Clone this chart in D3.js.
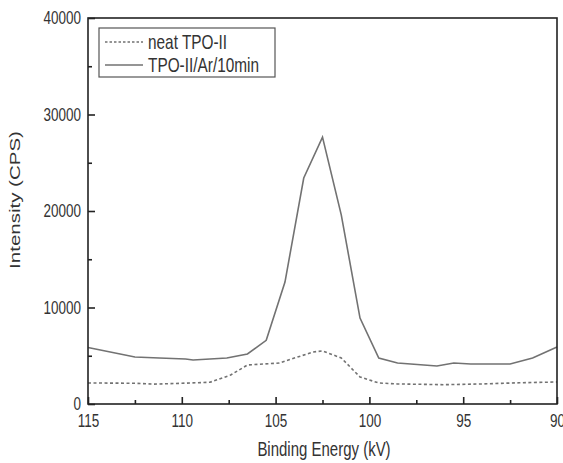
<!DOCTYPE html>
<html>
<head>
<meta charset="utf-8">
<script src="https://cdn.jsdelivr.net/npm/d3@7"></script>
<style>
  body { margin: 0; background: #fff; }
  text { font-family: "Liberation Sans", Arial, sans-serif; fill: #333; }
</style>
</head>
<body>
<div id="chart"></div>
<script>
// energies (kV) and intensities (CPS)
const solidX = [115, 112.5, 111.2, 109.8, 109.4, 107.6, 106.5, 105.5, 104.5, 103.5, 102.5, 101.5, 100.5, 99.5, 98.5, 96.4, 95.5, 94.6, 92.5, 91.3, 90];
const solidY = [5850, 4870, 4770, 4660, 4560, 4770, 5180, 6600, 12640, 23420, 27650, 19600, 8900, 4770, 4250, 3940, 4250, 4150, 4150, 4770, 5900];

const dashX = [115, 112.5, 111.5, 110, 108.5, 107.4, 106.5, 104.8, 103.0, 102.5, 101.5, 100.5, 99.5, 98.5, 96, 94, 92, 90];
const dashY = [2180, 2150, 2060, 2150, 2250, 3000, 4040, 4250, 5390, 5500, 4770, 2800, 2180, 2080, 2000, 2080, 2200, 2280];

const seriesNames = ["neat TPO-II", "TPO-II/Ar/10min"];
const xTicks = [115, 110, 105, 100, 95, 90];
const yTicks = [0, 10000, 20000, 30000, 40000];

const width = 563, height = 463;
const margin = {top: 18, right: 6, bottom: 59, left: 88};
const squeeze = 0.75; // the scanned figure's text looks condensed horizontally

const svg = d3.select("#chart")
  .append("svg")
  .attr("width", width)
  .attr("height", height);

const x = d3.scaleLinear().domain([115, 90]).range([margin.left, width - margin.right]);
const y = d3.scaleLinear().domain([0, 40000]).range([height - margin.bottom, margin.top]);

const lineColor = "#727272";

// data lines
const line = d3.line().x(d => x(d[0])).y(d => y(d[1]));

svg.append("path")
  .datum(d3.zip(dashX, dashY))
  .attr("fill", "none")
  .attr("stroke", lineColor)
  .attr("stroke-width", 1.6)
  .attr("stroke-dasharray", "3,2.5")
  .attr("d", line);

svg.append("path")
  .datum(d3.zip(solidX, solidY))
  .attr("fill", "none")
  .attr("stroke", lineColor)
  .attr("stroke-width", 1.6)
  .attr("d", line);

// frame
svg.append("rect")
  .attr("x", x(115)).attr("y", y(40000))
  .attr("width", x(90) - x(115)).attr("height", y(0) - y(40000))
  .attr("fill", "none")
  .attr("stroke", "#222")
  .attr("stroke-width", 1.6);

// ticks point inward
const xAxis = svg.append("g")
  .attr("transform", `translate(0,${y(0)})`)
  .call(d3.axisBottom(x).tickValues(xTicks).tickSize(-7).tickPadding(10).tickFormat(d3.format("d")));
xAxis.select(".domain").remove();
xAxis.selectAll(".tick line").attr("stroke", "#222").attr("stroke-width", 1.6);
xAxis.selectAll("text")
  .attr("font-size", 18)
  .attr("fill", "#333")
  .attr("transform", `scale(${squeeze},1)`);

svg.append("g")
  .attr("transform", `translate(0,${y(0)})`)
  .call(d3.axisBottom(x).tickValues(d3.range(112.5, 90, -5)).tickSize(-4).tickFormat(""))
  .call(g => g.select(".domain").remove())
  .selectAll(".tick line").attr("stroke", "#222").attr("stroke-width", 1.6);

const yAxis = svg.append("g")
  .attr("transform", `translate(${x(115)},0)`)
  .call(d3.axisLeft(y).tickValues(yTicks).tickSize(-7).tickPadding(8).tickFormat(d3.format("d")));
yAxis.select(".domain").remove();
yAxis.selectAll(".tick line").attr("stroke", "#222").attr("stroke-width", 1.6);
yAxis.selectAll("text")
  .attr("font-size", 18)
  .attr("fill", "#333")
  .attr("x", -7 / squeeze)
  .attr("transform", `scale(${squeeze},1)`);

svg.append("g")
  .attr("transform", `translate(${x(115)},0)`)
  .call(d3.axisLeft(y).tickValues([5000, 15000, 25000, 35000]).tickSize(-4).tickFormat(""))
  .call(g => g.select(".domain").remove())
  .selectAll(".tick line").attr("stroke", "#222").attr("stroke-width", 1.6);

// axis titles
svg.append("text")
  .attr("transform", `translate(324,456) scale(${squeeze},1)`)
  .attr("text-anchor", "middle")
  .attr("font-size", 20)
  .text("Binding Energy (kV)");

svg.append("text")
  .attr("transform", `translate(20,200) rotate(-90) scale(1,${squeeze})`)
  .attr("text-anchor", "middle")
  .attr("font-size", 20.5)
  .text("Intensity (CPS)");

// legend
const legend = svg.append("g").attr("transform", "translate(99,28)");
legend.append("rect")
  .attr("width", 176).attr("height", 49)
  .attr("fill", "#fff")
  .attr("stroke", "#555")
  .attr("stroke-width", 1.2);

const rows = legend.selectAll("g.row")
  .data(seriesNames)
  .join("g")
  .attr("transform", (d, i) => `translate(0,${14 + i * 23})`);

rows.append("line")
  .attr("x1", 6).attr("x2", 44)
  .attr("stroke", lineColor)
  .attr("stroke-width", 1.4)
  .attr("stroke-dasharray", (d, i) => i ? null : "2.5,2");

rows.append("text")
  .attr("transform", `translate(49,0) scale(${squeeze},1)`)
  .attr("dy", "0.36em")
  .attr("font-size", 20.5)
  .text(d => d);
</script>
</body>
</html>
